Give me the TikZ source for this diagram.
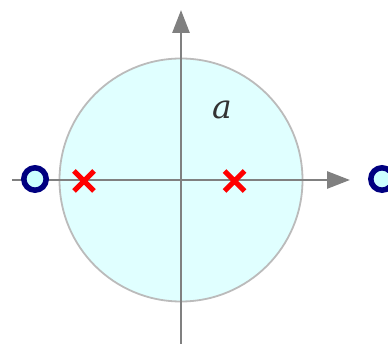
\documentclass[tikz,border=0pt]{standalone}
\usepackage{fontspec}
\newfontfamily\labelfont{DejaVu Serif}
\usetikzlibrary{arrows.meta}
\definecolor{disk}{HTML}{E0FFFF}
\definecolor{rim}{HTML}{BBBBBB}
\definecolor{axis}{HTML}{808080}
\definecolor{zero}{HTML}{000080}
\definecolor{zerofill}{HTML}{CCFFFF}

\begin{document}
\begin{tikzpicture}[x=1pt,y=-1pt]
 \useasboundingbox (0,0) rectangle (388,344);
 % unit disk
 \draw[rim, fill=disk, line width=1.8pt] (181,180) circle (121.5);
 % axes
 \coordinate (xs) at (12,180);
 \coordinate (xe) at (350,180);
 \coordinate (ys) at (181,344);
 \coordinate (ye) at (181,10);
 \draw[axis, line width=2.8pt, -{Triangle[length=23pt,width=17pt]}] (xs) -- (xe);
 \draw[axis, line width=2.8pt, -{Triangle[length=23pt,width=17pt]}] (ys) -- (ye);
 % poles
 \draw[red, line width=5pt] (74,171) -- (94,191) (74,191) -- (94,171);
 \draw[red, line width=5pt] (224.5,171) -- (244.5,191) (224.5,191) -- (244.5,171);
 % zeros
 \draw[zero, fill=zerofill, line width=5.5pt] (35,179) circle (11.2);
 \draw[zero, fill=zerofill, line width=5.5pt] (382,179) circle (11.2);
 \node[text=black!80, font=\labelfont\itshape\fontsize{33}{36}\selectfont] (a) at (222,110) {a};
\end{tikzpicture}
\end{document}
